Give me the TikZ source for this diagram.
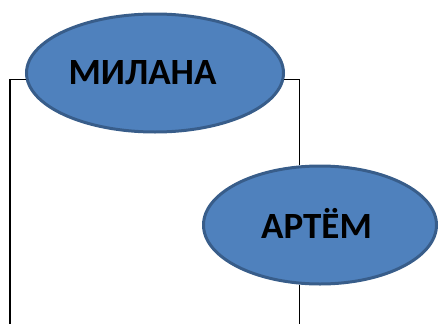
\documentclass[tikz,border=0pt]{standalone}
\usepackage{fontspec}
\setmainfont{Carlito}
\usetikzlibrary{shapes.geometric}
\definecolor{nodefill}{RGB}{79,129,189}
\definecolor{nodeline}{RGB}{56,93,138}
\tikzset{ kid/.style = { ellipse
                         , draw         = nodeline
                         , fill         = nodefill
                         , line width   = 3pt
                         , inner sep    = 0pt
                         , font         = \fontsize{37}{37}\selectfont\bfseries
                         },
          link/.style = { draw = black
                        , line width = 1.3pt
                        }
        }

\begin{document}
\begin{tikzpicture}[x=1pt, y=-1pt]
    \useasboundingbox (0,0) rectangle (439,324);
    \node[kid, minimum width=257pt, minimum height=118pt] (milana) at (155,73) {\hspace*{-25pt}МИЛАНА};
    \node[kid, minimum width=233pt, minimum height=118pt] (artem) at (320,225) {\hspace*{-7pt}\raisebox{3pt}{АРТЁМ}};
    %[left line down, right line to the second name]
    \coordinate (lb) at (10,324);
    \coordinate (rb) at (300,324);
    \draw[link] (milana.183) -| (lb);
    \draw[link] (milana.357) -| (artem.109);
    \draw[link] (artem.251) -- (artem.251 |- rb);
\end{tikzpicture}
\end{document}
